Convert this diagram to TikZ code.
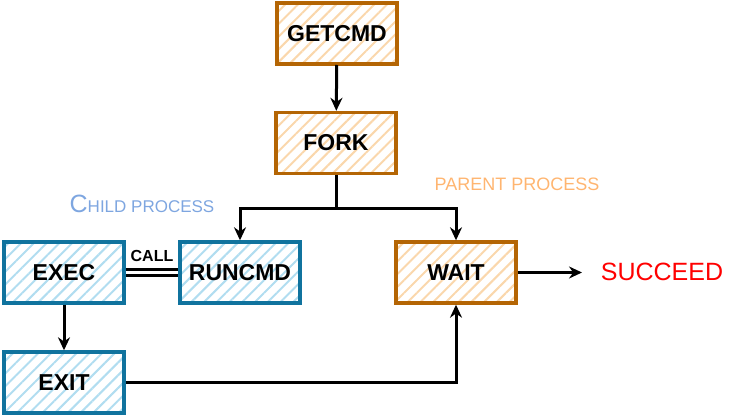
\documentclass[tikz,border=0pt]{standalone}
\usepackage{fontspec}
\setmainfont{Liberation Sans}
\usetikzlibrary{patterns.meta,arrows.meta}
\definecolor{ostroke}{HTML}{B46504}
\definecolor{ofill}{HTML}{FAD7AC}
\definecolor{bstroke}{HTML}{10739E}
\definecolor{bfill}{HTML}{B1DDF0}
\definecolor{bluetxt}{HTML}{7EA6E0}
\definecolor{orangetxt}{HTML}{FFB570}
\begin{document}
\begin{tikzpicture}[x=1pt,y=-1pt,
  procbox/.style={draw, line width=3.4pt, minimum width=120pt, minimum height=61pt, inner sep=0pt,
    font=\fontsize{23}{25}\selectfont\bfseries},
  orangebox/.style={procbox, draw=ostroke, pattern={Lines[angle=45,distance=9pt,line width=2pt]}, pattern color=ofill},
  bluebox/.style={procbox, draw=bstroke, pattern={Lines[angle=45,distance=9pt,line width=2pt]}, pattern color=bfill},
  conn/.style={draw, line width=3pt, -{Stealth[length=13pt,width=12pt]}},
  plainline/.style={draw, line width=3pt},
  note/.style={inner sep=0pt, font=\fontsize{18}{20}\selectfont}
]
\useasboundingbox (0,0) rectangle (736,417);

\node[orangebox] (getcmd) at (337,33.5) {GETCMD};
\node[orangebox] (fork) at (336,143) {FORK};
\node[bluebox] (exec) at (64,272.5) {EXEC};
\node[bluebox] (runcmd) at (240,272.5) {RUNCMD};
\node[orangebox] (wait) at (456,272.5) {WAIT};
\node[bluebox] (exit) at (64,382.5) {EXIT};
\node[inner sep=0pt, text=red, font=\fontsize{25}{27}\selectfont] (succeed) at (662,272) {SUCCEED};

\node[note, text=bluetxt] (child) at (142,204) {{\fontsize{25}{27}\selectfont C}{\fontsize{17}{19}\selectfont HILD PROCESS}};
\node[note, text=orangetxt] (parent) at (517,184) {PARENT PROCESS};

\draw[conn] (getcmd) -- (fork);
\coordinate (split) at (336,208);
\draw[plainline] (fork.south) -- (split);
\draw[conn] (split) -| (runcmd.north);
\draw[conn] (split) -| (wait.north);
\draw[line width=2.4pt, double, double distance=3.5pt] (exec) -- node[above=10pt, inner sep=0pt, font=\fontsize{16}{18}\selectfont\bfseries] (call) {CALL} (runcmd);
\draw[conn] (exec) -- (exit);
\draw[conn] (exit.east) -| (wait.south);
\coordinate (succend) at (582,272.5);
\draw[conn] (wait.east) -- (succend);
\end{tikzpicture}
\end{document}
